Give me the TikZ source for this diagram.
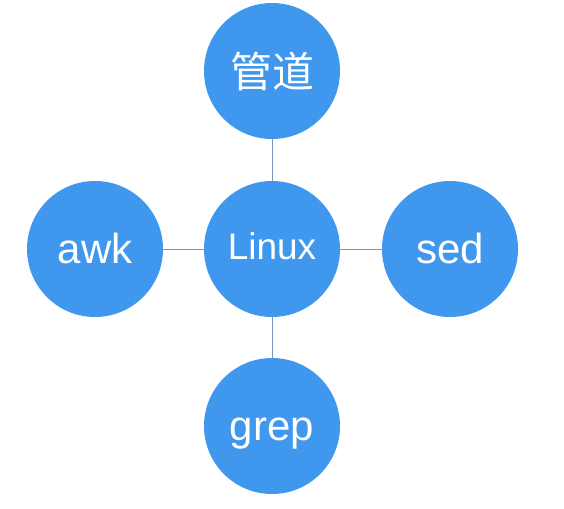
\documentclass[tikz,border=0pt]{standalone}
\usepackage{fontspec}
\setmainfont{Liberation Sans}
\newfontfamily\cjk{Noto Sans CJK SC}
\definecolor{bubble}{RGB}{64,151,238}
\definecolor{linkc}{RGB}{122,152,184}
\begin{document}
\begin{tikzpicture}[x=1pt,y=1pt,
  bubble/.style={circle,fill=bubble,minimum size=136pt,inner sep=0pt,text=white},
  big/.style={font=\fontsize{42}{46}\selectfont,text height=31pt,text depth=3pt},
  link/.style={draw=linkc,line width=1pt}]
\useasboundingbox (0,0) rectangle (564,-508);
\node[bubble,font=\fontsize{37}{40}\selectfont,text height=26pt,text depth=6pt] (linux) at (272,-249) {Linux};
\node[bubble,font=\cjk\fontsize{42}{46}\selectfont] (pipe) at (272,-71) {管道};
\node[bubble,big] (awk) at (95,-249) {awk};
\node[bubble,big] (sed) at (450,-249) {sed};
\node[bubble,big] (grep) at (272,-426) {grep};
\draw[link] (linux) -- (pipe);
\draw[link] (linux) -- (awk);
\draw[link] (linux) -- (sed);
\draw[link] (linux) -- (grep);
\end{tikzpicture}
\end{document}
